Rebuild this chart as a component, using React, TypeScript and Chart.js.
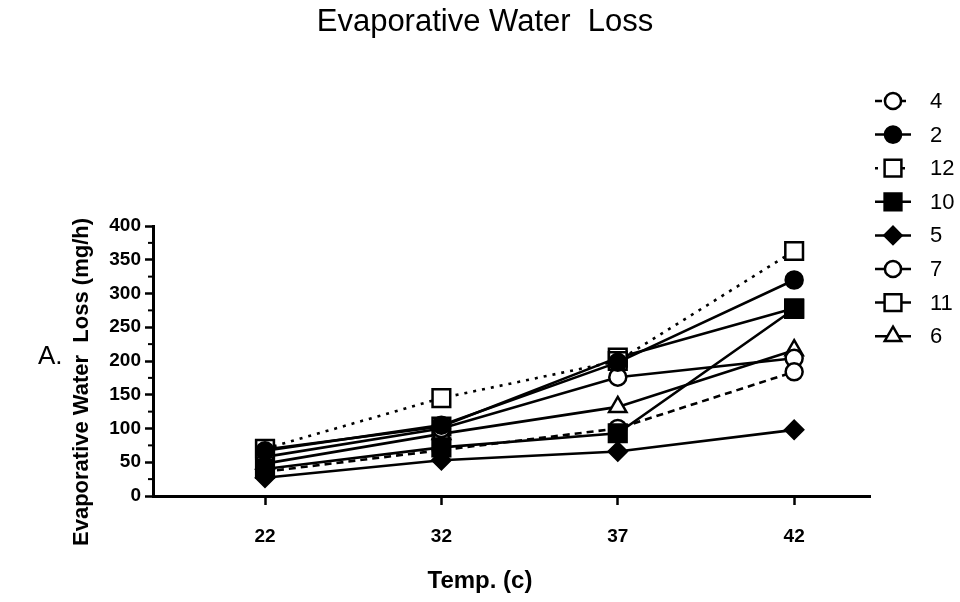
import React, { useEffect, useRef } from "react";
import { Chart, registerables } from "chart.js";
import { drawPoint } from "chart.js/helpers";

Chart.register(...registerables);

const temps = ["22", "32", "37", "42"];
const seriesNames = ["4", "2", "12", "10", "5", "7", "11", "6"];

const s4 = [36, 68, 100, 184];
const s2 = [67, 105, 198, 320];
const s12 = [70, 145, 200, 363];
const s10 = [40, 72, 93, 277];
const s5 = [27, 53, 66, 98];
const s7 = [58, 100, 176, 204];
const s11 = [69, 103, 205, 278];
const s6 = [48, 92, 132, 216];

const seriesValues = [s4, s2, s12, s10, s5, s7, s11, s6];
const pointStyles = ["circle", "circle", "rect", "rect", "rectRot", "circle", "rect", "triangle"];
const filled = [false, true, false, true, true, false, false, false];
const dashes: number[][] = [[7, 5], [], [3, 6], [], [], [], [], []];
const radii = [8.5, 8.5, 12.5, 12.5, 9, 8.5, 12.5, 10];

const yTicks = [0, 50, 100, 150, 200, 250, 300, 350, 400];

const FONT = "'Liberation Sans', Arial, Helvetica, sans-serif";

export default function App() {
  const ref = useRef<HTMLCanvasElement | null>(null);

  useEffect(() => {
    const canvas = ref.current;
    if (!canvas) return;

    const datasets = seriesNames.map((name, i) => ({
      label: name,
      data: seriesValues[i].map((v, j) => ({ x: j, y: v })),
      borderColor: "#000",
      borderWidth: 2.6,
      borderDash: dashes[i],
      pointStyle: pointStyles[i],
      pointRadius: radii[i],
      pointBorderWidth: 2.5,
      pointBorderColor: "#000",
      pointBackgroundColor: filled[i] ? "#000" : "#fff",
      fill: false,
      tension: 0,
      order: filled[i] ? 0 : 1,
    }));

    const decor = {
      id: "decor",
      afterDraw(chart: any) {
        const ctx = chart.ctx;
        const ys = chart.scales.y;
        const area = chart.chartArea;
        ctx.save();
        // minor ticks
        ctx.strokeStyle = "#000";
        ctx.lineWidth = 2;
        for (let v = 25; v < 400; v += 50) {
          const py = ys.getPixelForValue(v);
          ctx.beginPath();
          ctx.moveTo(area.left - 5, py);
          ctx.lineTo(area.left, py);
          ctx.stroke();
        }
        // title
        ctx.fillStyle = "#000";
        ctx.textAlign = "center";
        ctx.textBaseline = "middle";
        ctx.font = `31px ${FONT}`;
        ctx.fillText("Evaporative Water  Loss", 485, 22);
        // x title
        ctx.font = `bold 24px ${FONT}`;
        ctx.fillText("Temp. (c)", 480, 581);
        // y title
        ctx.save();
        ctx.translate(82, 382);
        ctx.rotate(-Math.PI / 2);
        ctx.font = `bold 22px ${FONT}`;
        ctx.fillText("Evaporative Water  Loss (mg/h)", 0, 0);
        ctx.restore();
        // A.
        ctx.font = `26px ${FONT}`;
        ctx.textAlign = "left";
        ctx.fillText("A.", 38, 357);
        // legend
        chart.data.datasets.forEach((ds: any, i: number) => {
          const ly = 101 + i * 33.6;
          ctx.save();
          ctx.strokeStyle = "#000";
          ctx.lineWidth = 2.5;
          ctx.setLineDash(ds.borderDash || []);
          ctx.beginPath();
          ctx.moveTo(875, ly);
          ctx.lineTo(911, ly);
          ctx.stroke();
          ctx.setLineDash([]);
          ctx.fillStyle = ds.pointBackgroundColor;
          ctx.strokeStyle = "#000";
          ctx.lineWidth = 2.5;
          drawPoint(ctx, {
            pointStyle: ds.pointStyle,
            radius: ds.pointRadius * 0.95,
            rotation: 0,
            borderWidth: 2.5,
          } as any, 893, ly);
          ctx.restore();
          ctx.fillStyle = "#000";
          ctx.font = `22px ${FONT}`;
          ctx.textAlign = "left";
          ctx.textBaseline = "middle";
          ctx.fillText(ds.label, 930, ly + 1);
        });
        ctx.restore();
      },
    };

    const chart = new Chart(canvas, {
      type: "line",
      data: { datasets },
      options: {
        responsive: false,
        maintainAspectRatio: false,
        animation: false,
        devicePixelRatio: 1,
        layout: { padding: { top: 226, right: 90, left: 0, bottom: 0 } },
        plugins: {
          legend: { display: false },
          title: { display: false },
          tooltip: { enabled: false },
        },
        scales: {
          x: {
            type: "linear",
            min: -0.635,
            max: 3.43,
            afterBuildTicks: (s: any) => {
              s.ticks = temps.map((_, i) => ({ value: i }));
            },
            afterFit: (s: any) => {
              s.height = 106;
            },
            ticks: {
              callback: (v: any) => temps[v] ?? "",
              font: { family: FONT, size: 19, weight: "bold" },
              color: "#000",
              padding: 20,
              maxRotation: 0,
            },
            grid: {
              display: true,
              drawOnChartArea: false,
              drawTicks: true,
              tickLength: 9,
              tickWidth: 2.5,
              tickColor: "#000",
              color: "#000",
            },
            border: { display: true, color: "#000", width: 3 },
          },
          y: {
            type: "linear",
            min: 0,
            max: 400,
            afterBuildTicks: (s: any) => {
              s.ticks = yTicks.map((v) => ({ value: v }));
            },
            afterFit: (s: any) => {
              s.width = 153;
            },
            ticks: {
              font: { family: FONT, size: 19, weight: "bold" },
              color: "#000",
              padding: 4,
            },
            grid: {
              display: true,
              drawOnChartArea: false,
              drawTicks: true,
              tickLength: 8,
              tickWidth: 2.5,
              tickColor: "#000",
              color: "#000",
            },
            border: { display: true, color: "#000", width: 3 },
          },
        },
      },
      plugins: [decor],
    } as any);

    return () => chart.destroy();
  }, []);

  return (
    <div style={{ position: "fixed", left: 0, top: 0, width: 960, height: 602, background: "#fff" }}>
      <canvas ref={ref} width={960} height={602} style={{ width: 960, height: 602, display: "block" }} />
    </div>
  );
}
